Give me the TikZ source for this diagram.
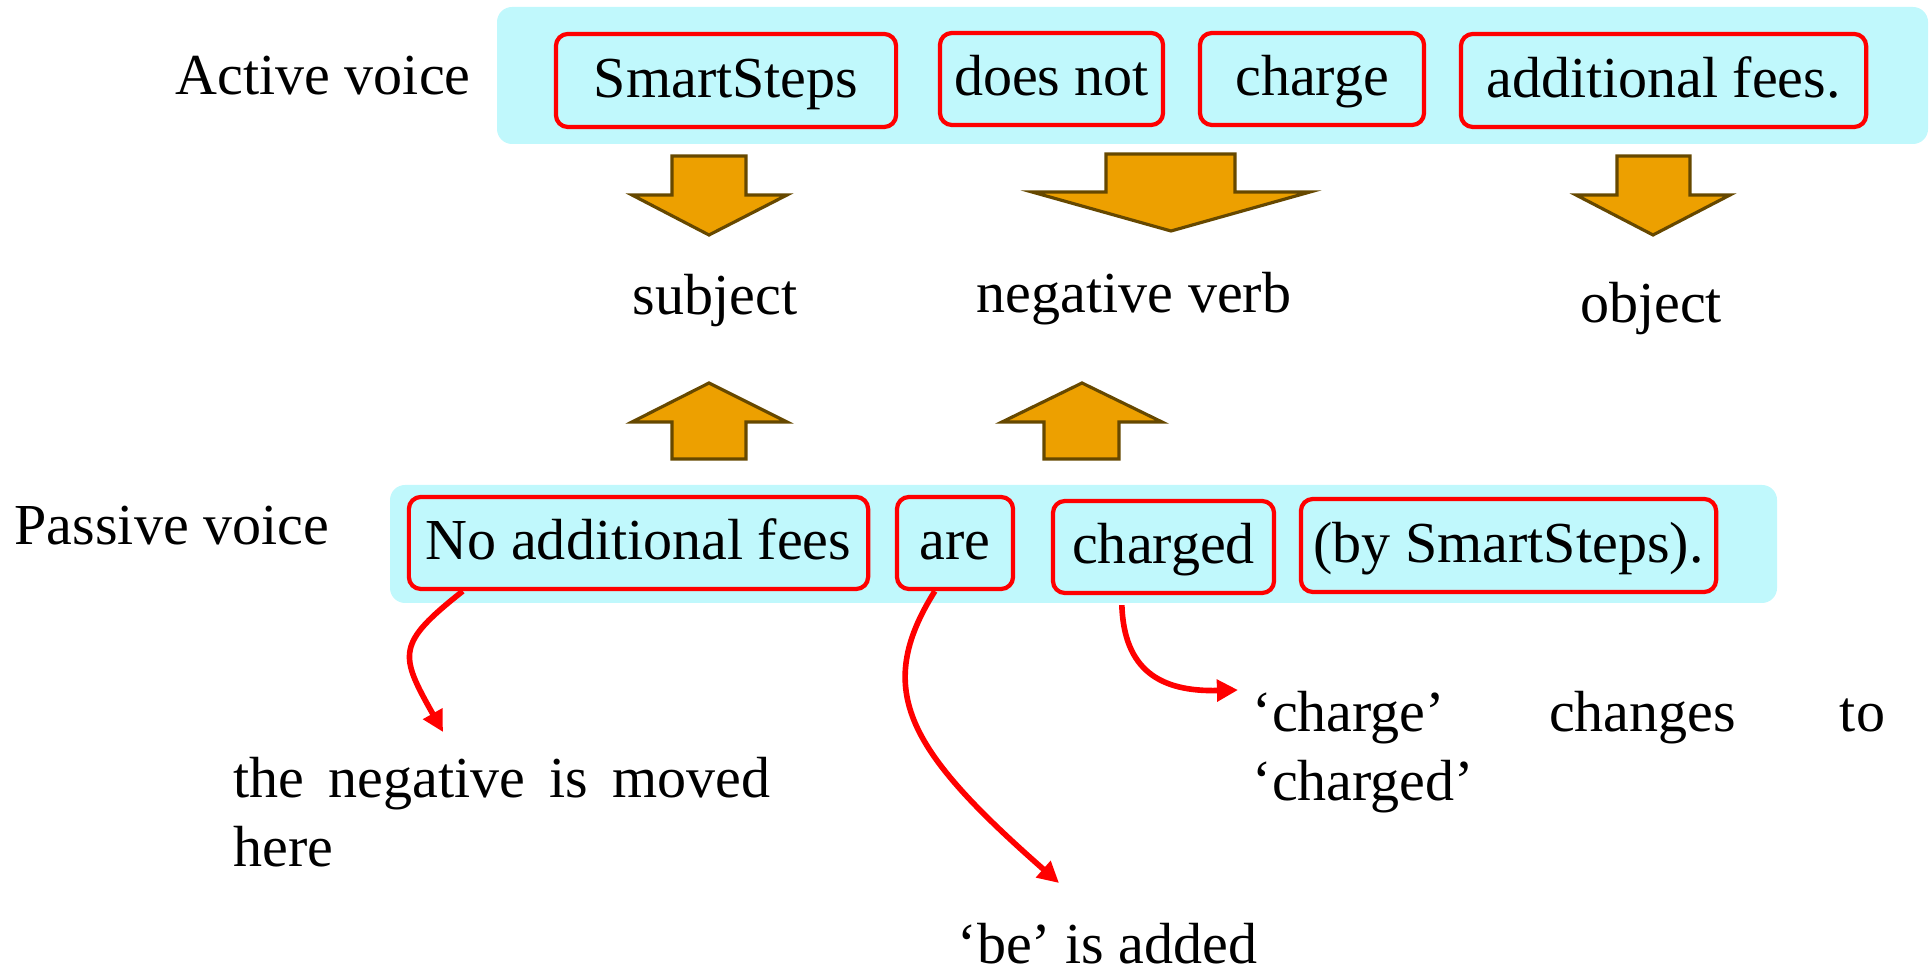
\documentclass[tikz,border=0pt]{standalone}
\usepackage{fontspec}
\setmainfont{Liberation Serif}
\usetikzlibrary{arrows.meta,calc}
\definecolor{bandcyan}{RGB}{192,248,252}
\definecolor{boxred}{RGB}{255,0,0}
\definecolor{arrowfill}{RGB}{237,160,0}
\definecolor{arrowline}{RGB}{102,72,0}
\begin{document}
\begin{tikzpicture}[x=0.01cm,y=-0.01cm,
  font=\fontsize{16.5}{19.4}\selectfont,
  band/.style={fill=bandcyan, rounded corners=0.15cm},
  wordbox/.style={draw=boxred, line width=1.2pt, rounded corners=0.12cm, inner sep=0pt,
    text height=1.0em, text depth=0.05em},
  txt/.style={inner sep=0pt},
  blockarrow/.style={fill=arrowfill, draw=arrowline, line width=0.9pt, line join=miter},
  note/.style={draw=boxred, line width=1.6pt, -{Triangle[length=6pt,width=6pt]}}]
\useasboundingbox (0,0) rectangle (1931,974);

% background bands
\fill[band] (497,7) rectangle (1928,144);
\fill[band] (390,485) rectangle (1777,603);

% labels
\node[txt, anchor=base west] (active) at (175,95) {Active voice};
\node[txt, anchor=base west] (passive) at (14,545) {Passive voice};

% active sentence
\node[wordbox, minimum width=3.40cm, minimum height=0.93cm] (smart) at (726,80.5) {SmartSteps};
\node[wordbox, minimum width=2.23cm, minimum height=0.92cm] (doesnot) at (1051.5,79) {does not};
\node[wordbox, minimum width=2.24cm, minimum height=0.92cm] (charge) at (1312,79) {charge};
\node[wordbox, minimum width=4.05cm, minimum height=0.93cm] (fees) at (1663.5,80.5) {additional fees.};

% passive sentence
\node[wordbox, minimum width=4.59cm, minimum height=0.92cm] (nofees) at (638.5,543) {No additional fees};
\node[wordbox, minimum width=1.16cm, minimum height=0.92cm] (are) at (955,543) {are};
\node[wordbox, minimum width=2.21cm, minimum height=0.92cm] (charged) at (1163.5,547) {charged};
\node[wordbox, minimum width=4.15cm, minimum height=0.93cm] (bysmart) at (1508.5,545.5) {(by SmartSteps).};

% roles
\node[txt, anchor=base] (subj) at (715,315) {subject};
\node[txt, anchor=base] (negverb) at (1134,313) {negative verb};
\node[txt, anchor=base] (obj) at (1651,323) {object};

% block arrows
\draw[blockarrow] (672,156) -- (746,156) -- (746,195) -- (787,195) -- (709,235) -- (632,195) -- (672,195) -- cycle;
\draw[blockarrow] (1106,154) -- (1235,154) -- (1235,192) -- (1310,192) -- (1171,231) -- (1032,192) -- (1106,192) -- cycle;
\draw[blockarrow] (1617,156) -- (1690,156) -- (1690,195) -- (1730,195) -- (1653,235) -- (1576,195) -- (1617,195) -- cycle;
\draw[blockarrow] (709,383) -- (787,422) -- (746,422) -- (746,459) -- (672,459) -- (672,422) -- (632,422) -- cycle;
\draw[blockarrow] (1082,383) -- (1162,422) -- (1119,422) -- (1119,459) -- (1044,459) -- (1044,422) -- (1002,422) -- cycle;

% notes
\node[txt, anchor=base west, text width=5.36cm, align=left] (negnote) at (233,798)
  {the\hfill negative\hfill is\hfill moved\\here};
\node[txt, anchor=base west, text width=6.32cm, align=left] (chgnote) at (1252,732)
  {‘charge’\hfill changes\hfill to\\‘charged’};
\node[txt, anchor=base west] (benote) at (957,964) {‘be’ is added};

% curved red arrows
\coordinate (e1) at (443,732);
\coordinate (e2) at (1059,883);
\coordinate (e3) at (1238,690);
\draw[note] ($(nofees.south west)+(56,0)$) .. controls (396,644) and (399,654) .. (e1);
\draw[note] ($(are.south west)+(40,0)$) .. controls (872,691) and (909,751) .. (e2);
\draw[note] ($(charged.south west)+(71,10)$) .. controls (1124,670) and (1160,692) .. (e3);
\end{tikzpicture}
\end{document}
